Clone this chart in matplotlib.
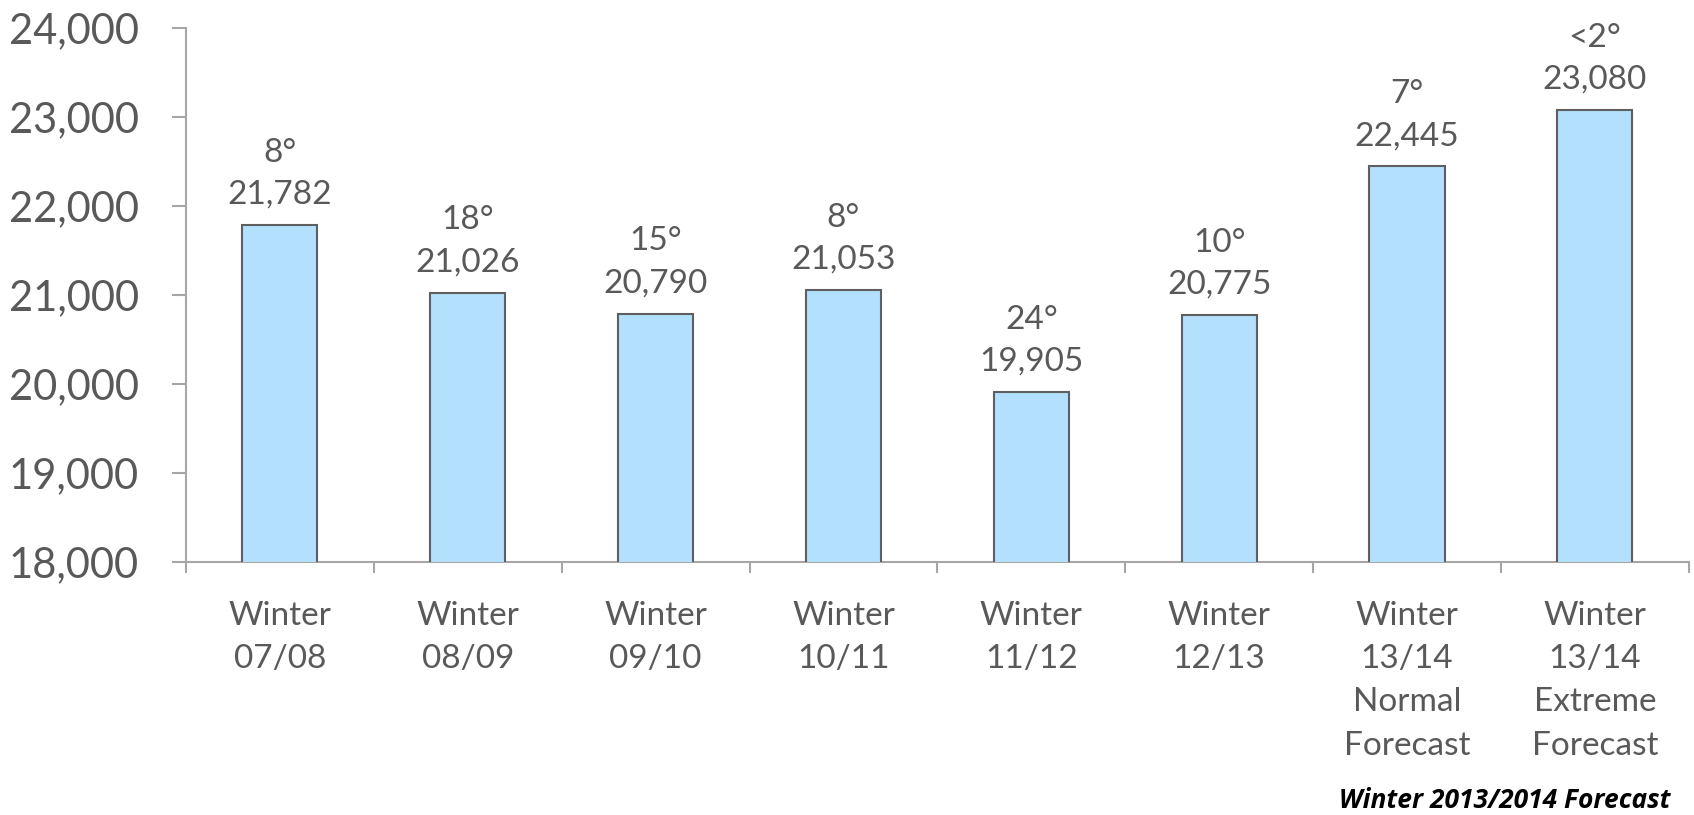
import matplotlib
matplotlib.use("Agg")
import matplotlib.pyplot as plt
from matplotlib.ticker import FuncFormatter, FixedLocator

categories = ["Winter\n07/08", "Winter\n08/09", "Winter\n09/10", "Winter\n10/11",
              "Winter\n11/12", "Winter\n12/13", "Winter\n13/14\nNormal\nForecast",
              "Winter\n13/14\nExtreme\nForecast"]
values = [21782, 21026, 20790, 21053, 19905, 20775, 22445, 23080]
degrees = ["8°", "18°", "15°", "8°", "24°", "10°", "7°", "<2°"]
yticks = [18000, 19000, 20000, 21000, 22000, 23000, 24000]
note = "Winter 2013/2014 Forecast"

FONT = ["Lato", "DejaVu Sans"]
TXT = "#595959"
AX = "#A6A6A6"

fig = plt.figure(figsize=(16.94, 8.15), dpi=100)
ax = fig.add_axes([186 / 1694, 1 - 561.7 / 815, (1688.7 - 186) / 1694, (561.7 - 28) / 815])

x = list(range(len(values)))
ax.bar(x, values, width=0.4, color="#B3E0FD", edgecolor="#5F5F5F", linewidth=1.5, zorder=3)

ax.set_ylim(18000, 24000)
ax.set_xlim(-0.5, len(values) - 0.5)
ax.set_yticks(yticks)
ax.yaxis.set_major_formatter(FuncFormatter(lambda v, p: f"{int(v):,}"))
for lab in ax.get_yticklabels():
    lab.set_fontfamily(FONT)
ax.tick_params(axis="y", which="major", length=10, width=1.5, color=AX,
               labelsize=30, labelcolor=TXT, pad=24, direction="out")

ax.xaxis.set_major_locator(FixedLocator([i - 0.5 for i in range(len(values) + 1)]))
ax.xaxis.set_minor_locator(FixedLocator(x))
ax.set_xticklabels([], minor=False)
ax.set_xticks(x, minor=True)
ax.set_xticklabels(categories, minor=True, fontsize=24, color=TXT,
                   linespacing=1.56, family=FONT)
ax.tick_params(axis="x", which="major", length=8, width=1.5, color=AX, direction="out")
ax.tick_params(axis="x", which="minor", length=0, pad=28)

for s in ["top", "right"]:
    ax.spines[s].set_visible(False)
for s in ["left", "bottom"]:
    ax.spines[s].set_color(AX)
    ax.spines[s].set_linewidth(1.5)

for xi, v, d in zip(x, values, degrees):
    ax.annotate(f"{d}\n{v:,}", (xi, v), xytext=(0, 11), textcoords="offset points",
                ha="center", va="bottom", fontsize=24, color=TXT, family=FONT,
                linespacing=1.5)

fig.text(1505 / 1694, 1 - 800 / 815, note, ha="center", va="center", fontsize=19,
         fontweight="bold", fontstyle="italic", color="black", family=["Open Sans", "DejaVu Sans"])

fig.savefig("out.png", dpi=100, facecolor="white")
